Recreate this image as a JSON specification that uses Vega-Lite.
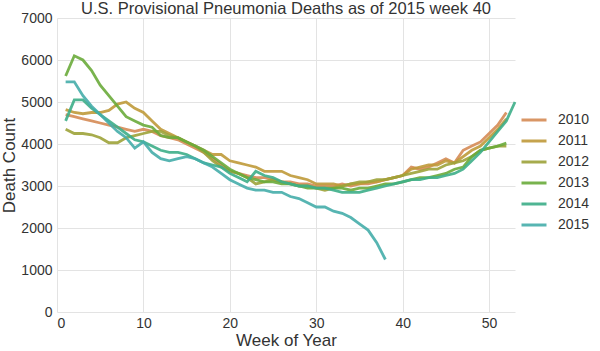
{
  "$schema": "https://vega.github.io/schema/vega-lite/v6.json",
  "width": 458,
  "height": 294,
  "autosize": {"type": "none"},
  "padding": {"left": 57, "top": 18, "right": 85, "bottom": 39},
  "background": "white",
  "config": {
    "font": "Liberation Sans",
    "view": {"stroke": null},
    "axis": {"gridColor": "#e3e3e3", "gridWidth": 1, "domain": false, "ticks": false, "labelColor": "#333", "titleColor": "#333", "labelFontSize": 14, "titleFontSize": 17, "titleFontWeight": "normal"},
    "title": {"fontSize": 16.5, "fontWeight": "normal", "color": "#333", "offset": -6}
  },
  "title": {"text": "U.S. Provisional Pneumonia Deaths as of 2015 week 40", "anchor": "middle"},
  "data": {"values": [
{"year":"2010","week":1,"deaths":4700},{"year":"2010","week":2,"deaths":4650},{"year":"2010","week":3,"deaths":4600},{"year":"2010","week":4,"deaths":4550},{"year":"2010","week":5,"deaths":4500},{"year":"2010","week":6,"deaths":4450},{"year":"2010","week":7,"deaths":4400},{"year":"2010","week":8,"deaths":4350},{"year":"2010","week":9,"deaths":4300},{"year":"2010","week":10,"deaths":4350},{"year":"2010","week":11,"deaths":4300},{"year":"2010","week":12,"deaths":4200},{"year":"2010","week":13,"deaths":4150},{"year":"2010","week":14,"deaths":4100},{"year":"2010","week":15,"deaths":4000},{"year":"2010","week":16,"deaths":3900},{"year":"2010","week":17,"deaths":3800},{"year":"2010","week":18,"deaths":3650},{"year":"2010","week":19,"deaths":3500},{"year":"2010","week":20,"deaths":3350},{"year":"2010","week":21,"deaths":3300},{"year":"2010","week":22,"deaths":3250},{"year":"2010","week":23,"deaths":3200},{"year":"2010","week":24,"deaths":3200},{"year":"2010","week":25,"deaths":3150},{"year":"2010","week":26,"deaths":3100},{"year":"2010","week":27,"deaths":3100},{"year":"2010","week":28,"deaths":3050},{"year":"2010","week":29,"deaths":3050},{"year":"2010","week":30,"deaths":3000},{"year":"2010","week":31,"deaths":3000},{"year":"2010","week":32,"deaths":3000},{"year":"2010","week":33,"deaths":3050},{"year":"2010","week":34,"deaths":3000},{"year":"2010","week":35,"deaths":3050},{"year":"2010","week":36,"deaths":3050},{"year":"2010","week":37,"deaths":3100},{"year":"2010","week":38,"deaths":3150},{"year":"2010","week":39,"deaths":3200},{"year":"2010","week":40,"deaths":3250},{"year":"2010","week":41,"deaths":3450},{"year":"2010","week":42,"deaths":3400},{"year":"2010","week":43,"deaths":3450},{"year":"2010","week":44,"deaths":3550},{"year":"2010","week":45,"deaths":3650},{"year":"2010","week":46,"deaths":3550},{"year":"2010","week":47,"deaths":3850},{"year":"2010","week":48,"deaths":3950},{"year":"2010","week":49,"deaths":4050},{"year":"2010","week":50,"deaths":4250},{"year":"2010","week":51,"deaths":4450},{"year":"2010","week":52,"deaths":4750},
{"year":"2011","week":1,"deaths":4820},{"year":"2011","week":2,"deaths":4750},{"year":"2011","week":3,"deaths":4720},{"year":"2011","week":4,"deaths":4750},{"year":"2011","week":5,"deaths":4750},{"year":"2011","week":6,"deaths":4800},{"year":"2011","week":7,"deaths":4950},{"year":"2011","week":8,"deaths":5000},{"year":"2011","week":9,"deaths":4850},{"year":"2011","week":10,"deaths":4750},{"year":"2011","week":11,"deaths":4550},{"year":"2011","week":12,"deaths":4350},{"year":"2011","week":13,"deaths":4250},{"year":"2011","week":14,"deaths":4150},{"year":"2011","week":15,"deaths":4050},{"year":"2011","week":16,"deaths":3950},{"year":"2011","week":17,"deaths":3850},{"year":"2011","week":18,"deaths":3750},{"year":"2011","week":19,"deaths":3750},{"year":"2011","week":20,"deaths":3600},{"year":"2011","week":21,"deaths":3550},{"year":"2011","week":22,"deaths":3500},{"year":"2011","week":23,"deaths":3450},{"year":"2011","week":24,"deaths":3350},{"year":"2011","week":25,"deaths":3350},{"year":"2011","week":26,"deaths":3350},{"year":"2011","week":27,"deaths":3250},{"year":"2011","week":28,"deaths":3200},{"year":"2011","week":29,"deaths":3150},{"year":"2011","week":30,"deaths":3050},{"year":"2011","week":31,"deaths":3050},{"year":"2011","week":32,"deaths":3050},{"year":"2011","week":33,"deaths":3000},{"year":"2011","week":34,"deaths":3050},{"year":"2011","week":35,"deaths":3050},{"year":"2011","week":36,"deaths":3100},{"year":"2011","week":37,"deaths":3100},{"year":"2011","week":38,"deaths":3150},{"year":"2011","week":39,"deaths":3200},{"year":"2011","week":40,"deaths":3250},{"year":"2011","week":41,"deaths":3400},{"year":"2011","week":42,"deaths":3450},{"year":"2011","week":43,"deaths":3500},{"year":"2011","week":44,"deaths":3500},{"year":"2011","week":45,"deaths":3600},{"year":"2011","week":46,"deaths":3550},{"year":"2011","week":47,"deaths":3700},{"year":"2011","week":48,"deaths":3850},{"year":"2011","week":49,"deaths":3950},{"year":"2011","week":50,"deaths":4150},{"year":"2011","week":51,"deaths":4350},{"year":"2011","week":52,"deaths":4600},
{"year":"2012","week":1,"deaths":4350},{"year":"2012","week":2,"deaths":4250},{"year":"2012","week":3,"deaths":4250},{"year":"2012","week":4,"deaths":4220},{"year":"2012","week":5,"deaths":4150},{"year":"2012","week":6,"deaths":4030},{"year":"2012","week":7,"deaths":4030},{"year":"2012","week":8,"deaths":4150},{"year":"2012","week":9,"deaths":4200},{"year":"2012","week":10,"deaths":4250},{"year":"2012","week":11,"deaths":4300},{"year":"2012","week":12,"deaths":4300},{"year":"2012","week":13,"deaths":4200},{"year":"2012","week":14,"deaths":4150},{"year":"2012","week":15,"deaths":4050},{"year":"2012","week":16,"deaths":3950},{"year":"2012","week":17,"deaths":3800},{"year":"2012","week":18,"deaths":3600},{"year":"2012","week":19,"deaths":3450},{"year":"2012","week":20,"deaths":3350},{"year":"2012","week":21,"deaths":3300},{"year":"2012","week":22,"deaths":3200},{"year":"2012","week":23,"deaths":3050},{"year":"2012","week":24,"deaths":3100},{"year":"2012","week":25,"deaths":3150},{"year":"2012","week":26,"deaths":3100},{"year":"2012","week":27,"deaths":3050},{"year":"2012","week":28,"deaths":3000},{"year":"2012","week":29,"deaths":3000},{"year":"2012","week":30,"deaths":2950},{"year":"2012","week":31,"deaths":2900},{"year":"2012","week":32,"deaths":2950},{"year":"2012","week":33,"deaths":3000},{"year":"2012","week":34,"deaths":3050},{"year":"2012","week":35,"deaths":3100},{"year":"2012","week":36,"deaths":3100},{"year":"2012","week":37,"deaths":3150},{"year":"2012","week":38,"deaths":3150},{"year":"2012","week":39,"deaths":3200},{"year":"2012","week":40,"deaths":3250},{"year":"2012","week":41,"deaths":3300},{"year":"2012","week":42,"deaths":3350},{"year":"2012","week":43,"deaths":3400},{"year":"2012","week":44,"deaths":3400},{"year":"2012","week":45,"deaths":3500},{"year":"2012","week":46,"deaths":3550},{"year":"2012","week":47,"deaths":3600},{"year":"2012","week":48,"deaths":3700},{"year":"2012","week":49,"deaths":3850},{"year":"2012","week":50,"deaths":3900},{"year":"2012","week":51,"deaths":3950},{"year":"2012","week":52,"deaths":3950},
{"year":"2013","week":1,"deaths":5620},{"year":"2013","week":2,"deaths":6100},{"year":"2013","week":3,"deaths":6000},{"year":"2013","week":4,"deaths":5750},{"year":"2013","week":5,"deaths":5400},{"year":"2013","week":6,"deaths":5150},{"year":"2013","week":7,"deaths":4900},{"year":"2013","week":8,"deaths":4650},{"year":"2013","week":9,"deaths":4550},{"year":"2013","week":10,"deaths":4450},{"year":"2013","week":11,"deaths":4400},{"year":"2013","week":12,"deaths":4200},{"year":"2013","week":13,"deaths":4150},{"year":"2013","week":14,"deaths":4150},{"year":"2013","week":15,"deaths":4050},{"year":"2013","week":16,"deaths":3950},{"year":"2013","week":17,"deaths":3850},{"year":"2013","week":18,"deaths":3700},{"year":"2013","week":19,"deaths":3550},{"year":"2013","week":20,"deaths":3400},{"year":"2013","week":21,"deaths":3300},{"year":"2013","week":22,"deaths":3200},{"year":"2013","week":23,"deaths":3150},{"year":"2013","week":24,"deaths":3100},{"year":"2013","week":25,"deaths":3100},{"year":"2013","week":26,"deaths":3050},{"year":"2013","week":27,"deaths":3050},{"year":"2013","week":28,"deaths":3000},{"year":"2013","week":29,"deaths":2950},{"year":"2013","week":30,"deaths":2950},{"year":"2013","week":31,"deaths":2950},{"year":"2013","week":32,"deaths":2950},{"year":"2013","week":33,"deaths":2950},{"year":"2013","week":34,"deaths":2900},{"year":"2013","week":35,"deaths":2950},{"year":"2013","week":36,"deaths":2950},{"year":"2013","week":37,"deaths":3000},{"year":"2013","week":38,"deaths":3050},{"year":"2013","week":39,"deaths":3050},{"year":"2013","week":40,"deaths":3100},{"year":"2013","week":41,"deaths":3150},{"year":"2013","week":42,"deaths":3200},{"year":"2013","week":43,"deaths":3200},{"year":"2013","week":44,"deaths":3250},{"year":"2013","week":45,"deaths":3300},{"year":"2013","week":46,"deaths":3400},{"year":"2013","week":47,"deaths":3450},{"year":"2013","week":48,"deaths":3700},{"year":"2013","week":49,"deaths":3850},{"year":"2013","week":50,"deaths":3900},{"year":"2013","week":51,"deaths":3950},{"year":"2013","week":52,"deaths":4020},
{"year":"2014","week":1,"deaths":4550},{"year":"2014","week":2,"deaths":5050},{"year":"2014","week":3,"deaths":5050},{"year":"2014","week":4,"deaths":4850},{"year":"2014","week":5,"deaths":4700},{"year":"2014","week":6,"deaths":4550},{"year":"2014","week":7,"deaths":4400},{"year":"2014","week":8,"deaths":4250},{"year":"2014","week":9,"deaths":4100},{"year":"2014","week":10,"deaths":4050},{"year":"2014","week":11,"deaths":3950},{"year":"2014","week":12,"deaths":3850},{"year":"2014","week":13,"deaths":3800},{"year":"2014","week":14,"deaths":3800},{"year":"2014","week":15,"deaths":3750},{"year":"2014","week":16,"deaths":3650},{"year":"2014","week":17,"deaths":3550},{"year":"2014","week":18,"deaths":3500},{"year":"2014","week":19,"deaths":3450},{"year":"2014","week":20,"deaths":3300},{"year":"2014","week":21,"deaths":3200},{"year":"2014","week":22,"deaths":3100},{"year":"2014","week":23,"deaths":3350},{"year":"2014","week":24,"deaths":3250},{"year":"2014","week":25,"deaths":3200},{"year":"2014","week":26,"deaths":3100},{"year":"2014","week":27,"deaths":3050},{"year":"2014","week":28,"deaths":3000},{"year":"2014","week":29,"deaths":3000},{"year":"2014","week":30,"deaths":2950},{"year":"2014","week":31,"deaths":2950},{"year":"2014","week":32,"deaths":2900},{"year":"2014","week":33,"deaths":2850},{"year":"2014","week":34,"deaths":2850},{"year":"2014","week":35,"deaths":2850},{"year":"2014","week":36,"deaths":2900},{"year":"2014","week":37,"deaths":2950},{"year":"2014","week":38,"deaths":3000},{"year":"2014","week":39,"deaths":3050},{"year":"2014","week":40,"deaths":3100},{"year":"2014","week":41,"deaths":3150},{"year":"2014","week":42,"deaths":3150},{"year":"2014","week":43,"deaths":3200},{"year":"2014","week":44,"deaths":3200},{"year":"2014","week":45,"deaths":3250},{"year":"2014","week":46,"deaths":3300},{"year":"2014","week":47,"deaths":3400},{"year":"2014","week":48,"deaths":3600},{"year":"2014","week":49,"deaths":3800},{"year":"2014","week":50,"deaths":4050},{"year":"2014","week":51,"deaths":4300},{"year":"2014","week":52,"deaths":4550},{"year":"2014","week":53,"deaths":5000},
{"year":"2015","week":1,"deaths":5480},{"year":"2015","week":2,"deaths":5480},{"year":"2015","week":3,"deaths":5150},{"year":"2015","week":4,"deaths":4900},{"year":"2015","week":5,"deaths":4700},{"year":"2015","week":6,"deaths":4500},{"year":"2015","week":7,"deaths":4300},{"year":"2015","week":8,"deaths":4150},{"year":"2015","week":9,"deaths":3900},{"year":"2015","week":10,"deaths":4050},{"year":"2015","week":11,"deaths":3800},{"year":"2015","week":12,"deaths":3650},{"year":"2015","week":13,"deaths":3600},{"year":"2015","week":14,"deaths":3650},{"year":"2015","week":15,"deaths":3700},{"year":"2015","week":16,"deaths":3650},{"year":"2015","week":17,"deaths":3550},{"year":"2015","week":18,"deaths":3450},{"year":"2015","week":19,"deaths":3300},{"year":"2015","week":20,"deaths":3150},{"year":"2015","week":21,"deaths":3050},{"year":"2015","week":22,"deaths":2950},{"year":"2015","week":23,"deaths":2900},{"year":"2015","week":24,"deaths":2900},{"year":"2015","week":25,"deaths":2850},{"year":"2015","week":26,"deaths":2850},{"year":"2015","week":27,"deaths":2750},{"year":"2015","week":28,"deaths":2700},{"year":"2015","week":29,"deaths":2600},{"year":"2015","week":30,"deaths":2500},{"year":"2015","week":31,"deaths":2500},{"year":"2015","week":32,"deaths":2400},{"year":"2015","week":33,"deaths":2350},{"year":"2015","week":34,"deaths":2250},{"year":"2015","week":35,"deaths":2100},{"year":"2015","week":36,"deaths":1950},{"year":"2015","week":37,"deaths":1650},{"year":"2015","week":38,"deaths":1250}
  ]},
  "mark": {"type": "line", "strokeWidth": 2.8, "opacity": 0.9},
  "encoding": {
    "x": {"field": "week", "type": "quantitative", "title": "Week of Year", "scale": {"domain": [0, 53], "nice": false}, "axis": {"values": [0, 10, 20, 30, 40, 50], "format": "d", "labelPadding": 4, "titlePadding": 2}},
    "y": {"field": "deaths", "type": "quantitative", "title": "Death Count", "scale": {"domain": [0, 7000], "nice": false}, "axis": {"values": [0, 1000, 2000, 3000, 4000, 5000, 6000, 7000], "format": "d", "labelPadding": 5, "titlePadding": 2}},
    "color": {"field": "year", "type": "nominal", "title": null,
      "scale": {"domain": ["2010", "2011", "2012", "2013", "2014", "2015"], "range": ["#d58b55", "#bf9a3a", "#9da33a", "#6aab3b", "#3dae88", "#45adaa"]},
      "legend": {"orient": "none", "legendX": 463, "legendY": 88, "symbolType": "stroke", "symbolSize": 625, "symbolStrokeWidth": 3, "labelFontSize": 14, "labelColor": "#333", "labelOffset": 10, "rowPadding": 0}}
  }
}
